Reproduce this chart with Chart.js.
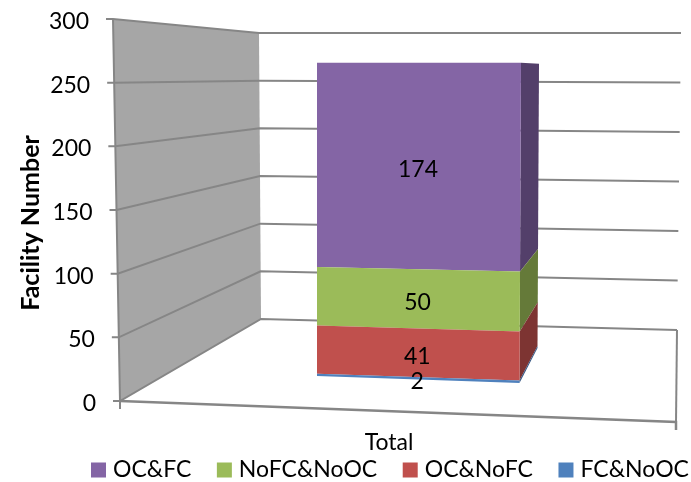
<!DOCTYPE html>
<html>
<head>
<meta charset="utf-8">
<style>
  html, body { margin: 0; background: #fff; }
  canvas { display: block; }
</style>
<script src="https://cdn.jsdelivr.net/npm/chart.js@4/dist/chart.umd.min.js"></script>
</head>
<body>
<canvas id="chart" width="691" height="482"></canvas>
<script>
const categories = ['Total'];
const fcNoOc = [2];
const ocNoFc = [41];
const noFcNoOc = [50];
const ocFc = [174];
const yMax = 300;
const yStep = 50;

const FONT = 'Lato, "Open Sans", sans-serif';
const GRID = '#868686';
const LEGEND_GAP = 30;

// 3D box of the plot: each edge runs between its value-0 and value-max position
const wallLeftX = t => 120 - 7 * t;
const wallBackX = t => 261 - 2 * t;
const wallBackY = t => 319 - 286 * t;
const sideEndX = t => 677 + 4 * t;
const sideEndY = t => 330 - 297 * t;

function line(ctx, pts, width) {
  ctx.beginPath();
  pts.forEach((p, i) => (i ? ctx.lineTo(p[0], p[1]) : ctx.moveTo(p[0], p[1])));
  ctx.lineWidth = width || 2;
  ctx.strokeStyle = GRID;
  ctx.stroke();
}

function poly(ctx, pts, fill) {
  ctx.beginPath();
  pts.forEach((p, i) => (i ? ctx.lineTo(p[0], p[1]) : ctx.moveTo(p[0], p[1])));
  ctx.closePath();
  ctx.fillStyle = fill;
  ctx.fill();
}

// depth look: the front face is sheared and shifted, the side face recedes to the right
function barFaces(bar, chart, y) {
  const scale = chart.scales.yBar;
  const zero = scale.getPixelForValue(0);
  const total = [fcNoOc, ocNoFc, noFcNoOc, ocFc].reduce((s, a) => s + a[0], 0);
  const t = (zero - y) / (zero - scale.getPixelForValue(total));
  const left = bar.x - bar.width / 2 + 21;
  const right = bar.x + bar.width / 2 + 21 - 1.5 * (1 - t);
  return {
    frontLeft: [left, y],
    frontRight: [right, y + 7 * (1 - t)],
    backRight: [right + 18, y - 28 + 29 * t]
  };
}

const depthPlugin = {
  id: 'depth',
  beforeLayout(chart) {
    // the legend row sits tight under the category label
    const legend = chart.legend;
    const fit = legend.fit;
    legend.fit = function () {
      fit.call(this);
      this.height = 24;
    };
  },
  afterLayout(chart) {
    const legend = chart.legend;
    legend.left = 95.5 - LEGEND_GAP;
    legend.right = legend.left + 680;
    legend.top = 458.5 - LEGEND_GAP;
  },
  beforeDatasetsDraw(chart) {
    const ctx = chart.ctx;
    const y = chart.scales.y;
    const top = y.getPixelForValue(yMax);
    const bottom = y.getPixelForValue(0);
    ctx.save();
    // side wall
    poly(ctx, [[wallLeftX(1), top], [wallBackX(1), wallBackY(1)], [wallBackX(0), wallBackY(0)], [wallLeftX(0), bottom]], '#A6A6A6');
    // gridlines run along the side wall and the back wall
    for (const tick of y.ticks) {
      const t = tick.value / yMax;
      const py = y.getPixelForValue(tick.value);
      line(ctx, [[wallLeftX(t) - 7, py], [wallLeftX(t), py], [wallBackX(t), wallBackY(t)], [sideEndX(t), sideEndY(t)]]);
    }
    // floor and axis edges
    line(ctx, [[wallLeftX(1), top], [wallLeftX(0), bottom], [wallLeftX(0), bottom + 8]]);
    line(ctx, [[wallLeftX(0), bottom], [676, 422], [676, 430]], 2.5);
    line(ctx, [[sideEndX(0), sideEndY(0)], [676, 422]]);
    ctx.restore();
  },
  beforeDatasetDraw(chart, args) {
    const ctx = chart.ctx;
    const ds = chart.data.datasets[args.index];
    ctx.save();
    for (const bar of args.meta.data) {
      const a = barFaces(bar, chart, bar.y);
      const b = barFaces(bar, chart, bar.base);
      poly(ctx, [a.frontRight, a.backRight, b.backRight, b.frontRight], ds.sideColor);
      poly(ctx, [a.frontLeft, a.frontRight, b.frontRight, b.frontLeft], ds.backgroundColor);
    }
    ctx.restore();
    return false;
  },
  afterDatasetsDraw(chart) {
    const ctx = chart.ctx;
    ctx.save();
    ctx.font = '23px ' + FONT;
    ctx.fillStyle = '#000';
    ctx.textAlign = 'center';
    ctx.textBaseline = 'middle';
    chart.data.datasets.forEach((ds, i) => {
      chart.getDatasetMeta(i).data.forEach((bar, j) => {
        const a = barFaces(bar, chart, bar.y);
        const b = barFaces(bar, chart, bar.base);
        const cy = (a.frontLeft[1] + a.frontRight[1] + b.frontLeft[1] + b.frontRight[1]) / 4;
        ctx.fillText(String(ds.data[j]), (a.frontLeft[0] + a.frontRight[0]) / 2 - 1, cy + 3.5);
      });
    });
    ctx.restore();
  },
  afterDraw(chart) {
    const ctx = chart.ctx;
    const y = chart.scales.y;
    ctx.save();
    ctx.fillStyle = '#000';
    // value labels follow the slanted edge of the wall
    ctx.font = '23px ' + FONT;
    ctx.textAlign = 'right';
    ctx.textBaseline = 'middle';
    for (const tick of y.ticks) {
      const t = tick.value / yMax;
      ctx.fillText(String(tick.value), wallLeftX(t) - 24, y.getPixelForValue(tick.value) + 2.5);
    }
    ctx.translate(31, 223);
    ctx.rotate(-Math.PI / 2);
    ctx.font = 'bold 25px ' + FONT;
    ctx.textAlign = 'center';
    ctx.fillText('Facility Number', 0, 0);
    ctx.restore();
  }
};

new Chart(document.getElementById('chart'), {
  type: 'bar',
  data: {
    labels: categories,
    datasets: [
      { label: 'FC&NoOC', data: fcNoOc, backgroundColor: '#4F81BD', sideColor: '#335480' },
      { label: 'OC&NoFC', data: ocNoFc, backgroundColor: '#C0504D', sideColor: '#7D3432' },
      { label: 'NoFC&NoOC', data: noFcNoOc, backgroundColor: '#9BBB59', sideColor: '#657A39' },
      { label: 'OC&FC', data: ocFc, backgroundColor: '#8465A5', sideColor: '#533F6A' }
    ].map(ds => ({ ...ds, yAxisID: 'yBar', categoryPercentage: 1, barPercentage: 204 / 556 }))
  },
  options: {
    responsive: false,
    animation: false,
    layout: { padding: { top: 19, right: 15, bottom: 1 } },
    plugins: {
      tooltip: { enabled: false },
      legend: {
        position: 'bottom',
        align: 'start',
        reverse: true,
        labels: {
          usePointStyle: true,
          pointStyle: 'rect',
          boxWidth: 6,
          boxHeight: 15,
          padding: LEGEND_GAP,
          color: '#000',
          font: { family: FONT, size: 23 }
        }
      }
    },
    scales: {
      x: {
        stacked: true,
        grid: { display: false },
        border: { display: false },
        ticks: { color: '#000', padding: 20, labelOffset: -9, font: { family: FONT, size: 23 } },
        afterFit(scale) { scale.height = 56; }
      },
      y: {
        min: 0,
        max: yMax,
        grid: { display: false },
        border: { display: false },
        ticks: { display: false, stepSize: yStep },
        afterFit(scale) { scale.width = 120; }
      },
      // bars sit nearer the viewer than the axis, so their plane has its own scale
      yBar: {
        display: false,
        stacked: true,
        min: -21.3,
        max: 304.4
      }
    }
  },
  plugins: [depthPlugin]
});
</script>
</body>
</html>
